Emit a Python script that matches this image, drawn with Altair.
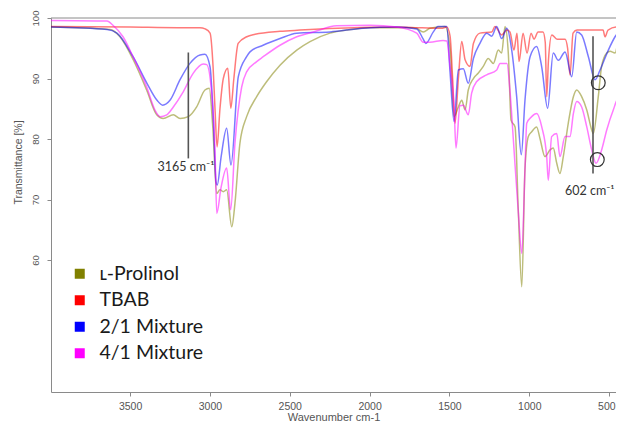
import altair as alt
import pandas as pd

series_names = ["ʟ-Prolinol", "TBAB", "2/1 Mixture", "4/1 Mixture"]
legend_colors = ["#808000", "#ff0000", "#0000ff", "#ff00ff"]

prolinol_wn = [4000, 3626, 3563, 3480, 3396, 3333, 3292, 3229, 3187, 3135, 3083, 3031, 3004, 2982,
               2957, 2937, 2916, 2895, 2863, 2843, 2812, 2770, 2707, 2644, 2561, 2456, 2373, 2248,
               2143, 1997, 1728, 1705, 1664, 1622, 1528, 1496, 1471, 1444, 1423, 1402, 1382, 1350,
               1319, 1288, 1257, 1225, 1194, 1173, 1152, 1131, 1114, 1089, 1069, 1047, 1027, 1006,
               985, 954, 933, 902, 870, 850, 828, 808, 787, 756, 724, 703, 672, 640, 609, 599, 568,
               547, 515, 494, 463, 432, 411]
prolinol_t = [98.5, 98.1, 96.9, 93.1, 88.1, 84.0, 83.4, 84.0, 83.4, 83.7, 85.3, 88.1, 88.4, 82.0,
              71.0, 71.6, 71.3, 71.6, 65.5, 69.4, 79.3, 83.7, 87.0, 89.5, 92.2, 94.7, 96.1, 97.5,
              98.0, 98.4, 98.4, 98.3, 97.7, 98.3, 98.6, 95.0, 83.7, 85.3, 86.4, 84.8, 88.1, 90.0,
              90.9, 92.0, 93.3, 92.5, 94.7, 94.2, 98.6, 94.0, 83.1, 82.0, 68.3, 55.6, 75.0, 80.4,
              81.2, 82.0, 80.1, 77.1, 78.2, 78.5, 76.0, 74.3, 77.1, 82.6, 87.0, 88.1, 87.0, 84.8,
              81.5, 80.9, 87.0, 92.0, 94.2, 94.5, 94.2, 97.7, 98.0]

tbab_wn = [4000, 3500, 3200, 3062, 3030, 2999, 2980, 2968, 2955, 2937, 2916, 2888, 2869, 2850, 2823,
           2769, 2717, 2561, 2436, 2200, 1800, 1700, 1550, 1517, 1496, 1480, 1465, 1444, 1423, 1402,
           1371, 1350, 1309, 1235, 1215, 1173, 1140, 1121, 1096, 1077, 1064, 1039, 1014, 989, 970,
           945, 914, 900, 891, 880, 859, 826, 776, 760, 745, 726, 701, 620, 538, 526, 507, 451, 413]
tbab_t = [98.6, 98.5, 98.4, 98.4, 98.2, 97.5, 91.9, 85.0, 78.7, 85.0, 90.0, 91.7, 85.1, 90.0, 95.8,
          96.9, 97.3, 97.8, 98.0, 98.3, 98.5, 98.4, 98.3, 98.5, 97.0, 90.0, 82.6, 90.0, 96.1, 93.1,
          92.0, 95.8, 97.5, 97.7, 98.6, 97.2, 98.0, 97.7, 94.7, 97.5, 92.8, 97.5, 94.2, 97.5, 96.5,
          97.7, 97.7, 96.0, 87.0, 93.0, 97.2, 96.5, 96.5, 95.0, 90.6, 97.5, 98.0, 98.0, 98.0, 96.9,
          98.0, 98.5, 98.5]

mix21_wn = [4000, 3644, 3582, 3481, 3394, 3331, 3296, 3250, 3187, 3125, 3062, 3031, 2999, 2979, 2962,
            2954, 2930, 2895, 2868, 2822, 2770, 2749, 2667, 2561, 2456, 2248, 2041, 1830, 1705, 1664,
            1648, 1601, 1572, 1517, 1496, 1471, 1444, 1413, 1382, 1350, 1309, 1267, 1235, 1204, 1173,
            1141, 1110, 1079, 1050, 1027, 995, 954, 922, 885, 850, 818, 776, 734, 703, 672, 630, 588,
            557, 505, 463, 421]
mix21_t = [98.5, 98.1, 97.5, 93.6, 89.2, 86.4, 85.6, 86.4, 89.8, 92.5, 93.9, 94.0, 91.9, 83.7, 73.0,
           72.4, 77.0, 81.8, 75.7, 90.3, 93.6, 94.4, 95.5, 96.6, 97.5, 97.7, 98.3, 98.5, 98.2, 96.5,
           95.8, 97.7, 98.6, 98.6, 91.0, 82.9, 91.4, 91.6, 89.2, 93.3, 95.8, 97.5, 97.0, 98.6, 96.6,
           98.3, 94.7, 87.0, 77.4, 86.4, 93.6, 95.3, 91.9, 85.1, 94.2, 93.0, 94.4, 90.3, 97.7, 97.2,
           93.6, 89.8, 91.4, 94.7, 96.9, 98.3]

mix41_wn = [4000, 3644, 3607, 3544, 3481, 3396, 3344, 3312, 3270, 3229, 3167, 3104, 3041, 3020, 2989,
            2968, 2957, 2930, 2895, 2870, 2843, 2801, 2770, 2707, 2666, 2561, 2456, 2352, 2206, 1997,
            1830, 1705, 1664, 1622, 1540, 1517, 1496, 1471, 1459, 1434, 1413, 1382, 1361, 1329, 1267,
            1204, 1183, 1140, 1121, 1100, 1069, 1047, 1027, 1016, 985, 954, 922, 891, 881, 860, 828,
            808, 776, 745, 724, 703, 672, 640, 609, 582, 547, 515, 474, 443, 411]
mix41_t = [99.6, 99.5, 98.8, 96.9, 93.6, 88.6, 84.8, 83.7, 84.0, 85.3, 87.8, 90.9, 92.4, 92.3, 87.6,
           78.0, 67.7, 72.0, 75.2, 68.3, 79.3, 88.6, 91.1, 92.8, 93.6, 95.5, 96.9, 97.7, 98.7, 98.8,
           98.5, 97.5, 96.0, 96.0, 96.3, 96.2, 92.0, 85.3, 78.5, 85.5, 85.6, 84.0, 87.6, 89.5, 90.6,
           91.4, 92.5, 92.5, 88.0, 80.0, 68.0, 61.1, 75.0, 82.6, 83.7, 84.2, 82.0, 77.1, 73.2, 80.4,
           80.9, 77.1, 80.4, 80.4, 84.2, 86.2, 85.3, 82.0, 78.2, 76.0, 78.2, 81.5, 84.8, 86.7, 86.5]

x_ticks = [500, 1000, 1500, 2000, 2500, 3000, 3500]
y_ticks = [60, 70, 80, 90, 100]

# annotations
ann_rule_wn = [3135, 601]
ann_rule_top = [94.3, 97.0]
ann_rule_bottom = [76.8, 74.3]
ann_text = ["3165 cm⁻¹", "602 cm⁻¹"]
ann_text_wn = [3150, 466]
ann_text_t = [75.4, 71.4]
circle_wn = [568, 574]
circle_t = [89.3, 76.6]

rows = []
for name, wns, ts in zip(series_names,
                         [prolinol_wn, tbab_wn, mix21_wn, mix41_wn],
                         [prolinol_t, tbab_t, mix21_t, mix41_t]):
    for w, t in zip(wns, ts):
        rows.append({"wn": w, "T": t, "series": name})
df = pd.DataFrame(rows)

x_scale = alt.Scale(domain=[457, 3995], reverse=True, nice=False, zero=False)
y_scale = alt.Scale(domain=[38.2, 100], nice=False, zero=False)

x_axis = alt.Axis(values=x_ticks, format="d", title="Wavenumber cm-1", labelPadding=5,
                  labelFlush=10, labelFlushOffset=6,
                  titleY=28, titleBaseline="alphabetic", labelFontSize=10.5, titleFontSize=11)
y_axis = alt.Axis(values=y_ticks, format="d", title="Transmittance [%]", labelAngle=270,
                  labelAlign="center", labelBaseline="bottom", labelPadding=7, labelFontSize=9.5,
                  titleX=-33, titleY=144, titleBaseline="middle", titleAlign="center",
                  titleAngle=270, titleFontSize=10.5)

top_rule = alt.Chart(pd.DataFrame({"T": [100]})).mark_rule(color="#8a8a8a", strokeWidth=1).encode(
    y=alt.Y("T:Q", scale=y_scale, axis=y_axis)
)

lines = alt.Chart(df).mark_line(strokeWidth=1.5, opacity=0.52, clip=True,
                                interpolate="monotone").encode(
    x=alt.X("wn:Q", scale=x_scale, axis=x_axis),
    y=alt.Y("T:Q", scale=y_scale, axis=y_axis),
    color=alt.Color("series:N",
                    scale=alt.Scale(domain=series_names, range=legend_colors),
                    legend=alt.Legend(title=None, orient="none", legendX=19, legendY=246,
                                      padding=0, symbolType="square", symbolSize=25,
                                      symbolStrokeWidth=5, symbolOpacity=1,
                                      labelFont="Lato", labelFontSize=19.5, labelColor="#1a1a1a",
                                      labelOffset=10, rowPadding=0.5, labelLimit=300)),
)

rule_df = pd.DataFrame({"wn": ann_rule_wn, "t1": ann_rule_top, "t2": ann_rule_bottom})
rules = alt.Chart(rule_df).mark_rule(color="#555555", strokeWidth=1.6).encode(
    x=alt.X("wn:Q", scale=x_scale), y=alt.Y("t1:Q", scale=y_scale), y2="t2:Q"
)

text_df = pd.DataFrame({"wn": ann_text_wn, "T": ann_text_t, "label": ann_text})
text_center = alt.Chart(text_df.iloc[[0]]).mark_text(font="Lato", fontSize=12.5, color="#333333",
                                                    align="center", baseline="middle").encode(
    x=alt.X("wn:Q", scale=x_scale), y=alt.Y("T:Q", scale=y_scale), text="label:N"
)
text_right = alt.Chart(text_df.iloc[[1]]).mark_text(font="Lato", fontSize=12.5, color="#333333",
                                                   align="right", baseline="middle").encode(
    x=alt.X("wn:Q", scale=x_scale), y=alt.Y("T:Q", scale=y_scale), text="label:N"
)

circ_df = pd.DataFrame({"wn": circle_wn, "T": circle_t})
circles = alt.Chart(circ_df).mark_point(shape="circle", size=190, filled=False, color="#333333",
                                        strokeWidth=1.2, opacity=1).encode(
    x=alt.X("wn:Q", scale=x_scale), y=alt.Y("T:Q", scale=y_scale)
)

chart = alt.layer(top_rule, lines, rules, circles, text_center, text_right).properties(
    width=565, height=374,
    padding={"left": 43, "top": 10, "right": 0, "bottom": 29},
    autosize=alt.AutoSizeParams(type="none"),
).configure_view(stroke=None).configure_axis(
    grid=False, domainColor="#8a8a8a", tickColor="#8a8a8a", tickSize=4,
    labelColor="#555555", titleColor="#555555", labelFont="Liberation Sans",
    titleFont="Liberation Sans", titleFontWeight="normal"
)

chart.save("out.html", embed_options={"renderer": "svg", "actions": False})
